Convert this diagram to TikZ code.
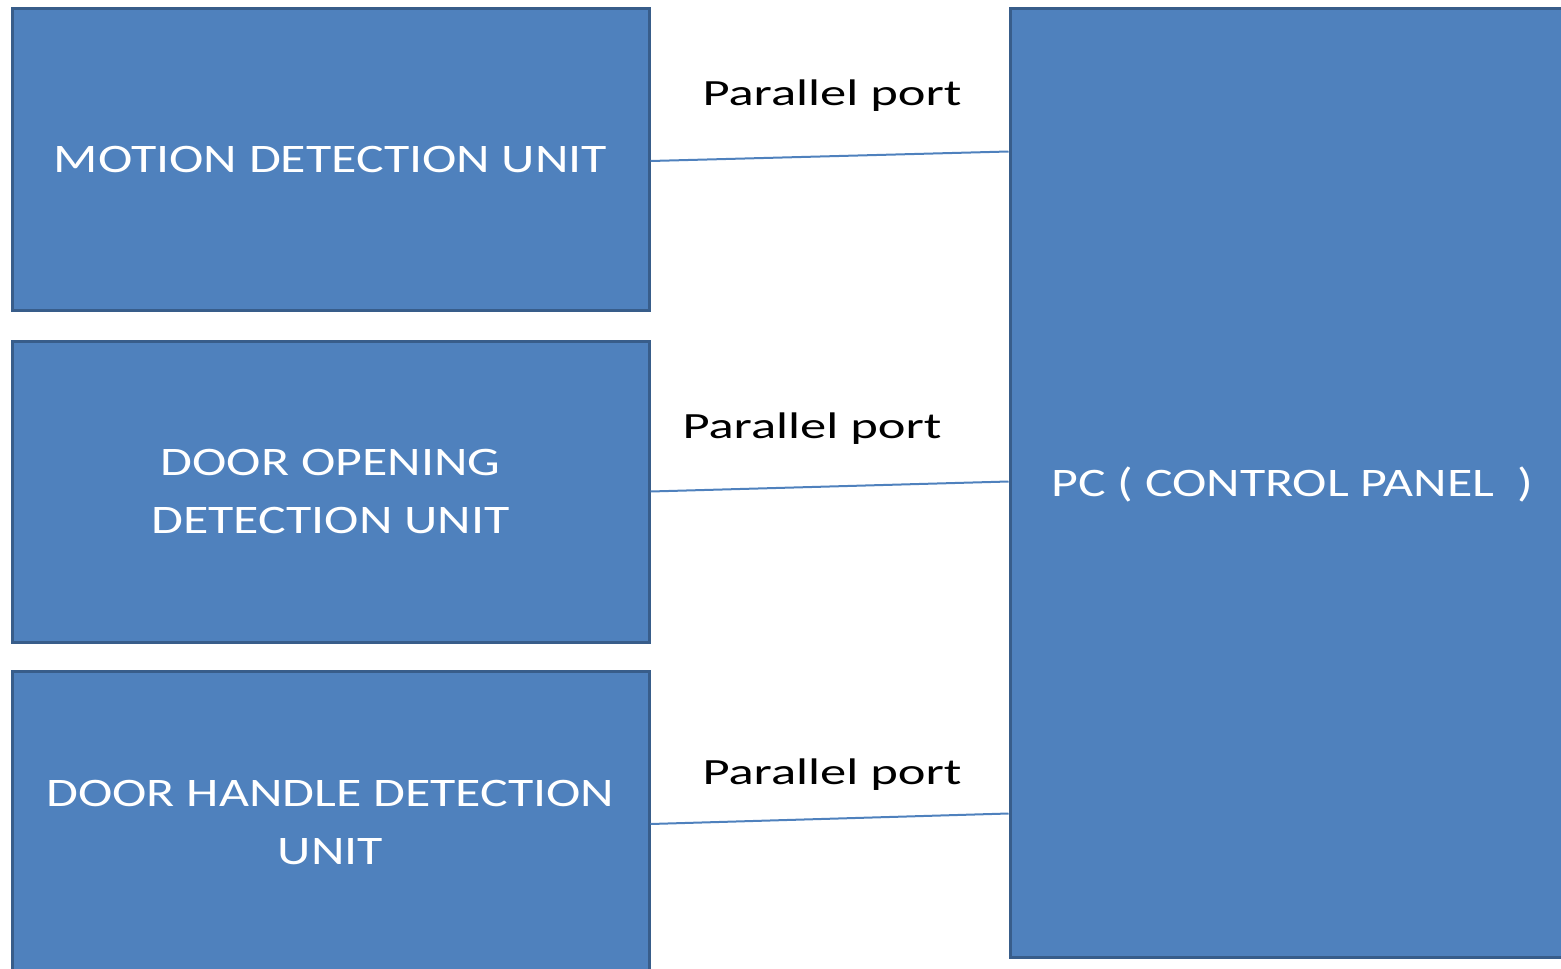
\documentclass[tikz,border=0pt]{standalone}
\usepackage{fontspec}
\usetikzlibrary{calc}
\setmainfont{Carlito}
\newfontfamily\boxfont{Carlito}[FakeStretch=1.28]
\newfontfamily\portfont{Carlito}[FakeStretch=1.42]
\definecolor{unitfill}{HTML}{4F81BD}
\definecolor{unitdraw}{HTML}{385D8A}
\tikzset{
  unit/.style={draw=unitdraw, line width=3pt, fill=unitfill, rectangle,
    inner sep=0pt, text=white, align=center,
    font=\boxfont\fontsize{40.5}{58}\selectfont},
  portlabel/.style={text=black, inner sep=0pt, font=\portfont\fontsize{37}{44}\selectfont},
  link/.style={draw=unitfill, line width=2pt}
}
\begin{document}
\begin{tikzpicture}[x=1pt,y=-1pt]
\useasboundingbox (0,0) rectangle (1561,969);
\clip (0,0) rectangle (1561,969);
\node[unit, text depth=-5pt, minimum width=637pt, minimum height=302pt] (m) at (330.5,159) {MOTION DETECTION UNIT};
\node[unit, text depth=-5pt, minimum width=637pt, minimum height=301pt] (o) at (330.5,491.5) {DOOR OPENING\\DETECTION UNIT};
\node[unit, text depth=-5pt, minimum width=637pt, minimum height=302pt] (h) at (330.5,822) {DOOR HANDLE DETECTION\\UNIT};
\node[unit, text depth=2pt, minimum width=565pt, minimum height=949pt] (pc) at (1292.5,482.5) {PC ( CONTROL PANEL~ )};
\coordinate (pc1) at ($(pc.north west)+(0,145)$);
\coordinate (pc2) at ($(pc.north west)+(0,475)$);
\coordinate (pc3) at ($(pc.north west)+(0,807)$);
\draw[link] ($(m.east)+(0,2)$) -- (pc1);
\draw[link] (o.east) -- (pc2);
\draw[link] ($(h.east)+(0,2)$) -- (pc3);
\node[portlabel] (l1) at (832,96) {Parallel port};
\node[portlabel] (l2) at (812,429) {Parallel port};
\node[portlabel] (l3) at (832,775) {Parallel port};
\end{tikzpicture}
\end{document}
